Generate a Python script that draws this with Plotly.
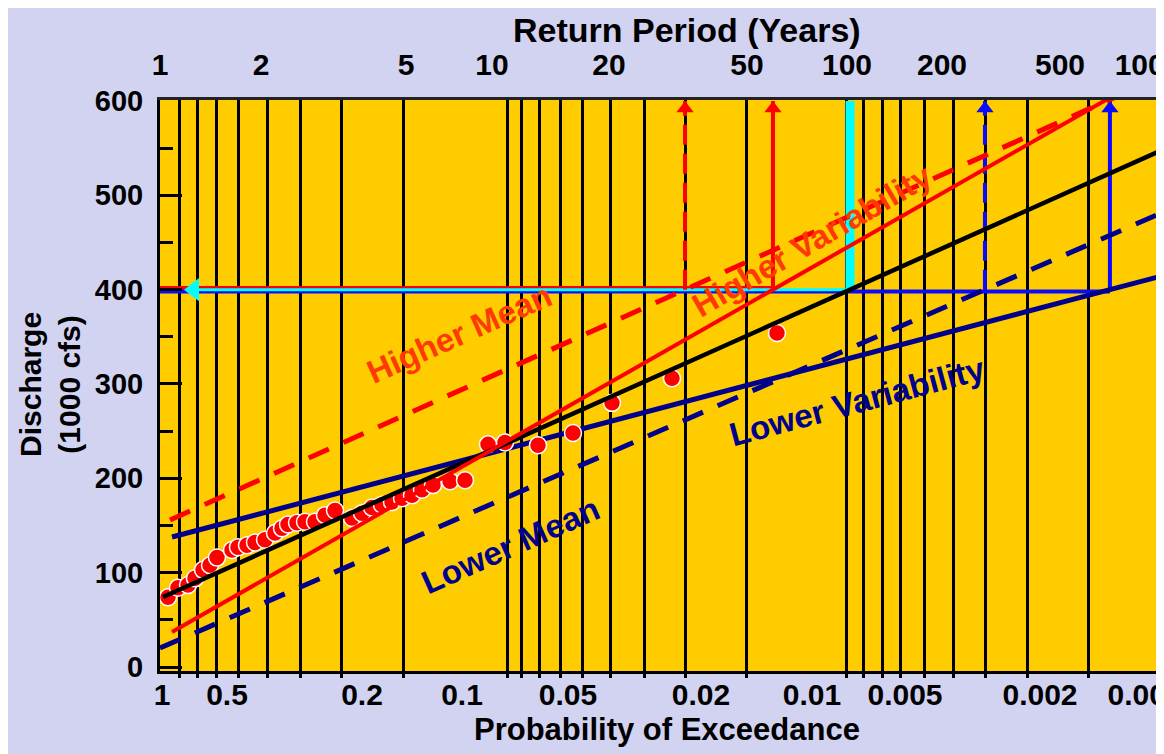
import numpy as np
import plotly.graph_objects as go

# ---------------- data ----------------
# x is the position on the probability paper (0 = P 1.0 / T 1 yr, 1000 = right edge)
OBS_POS = [8, 18, 28, 35, 43, 50, 57, 72, 78, 87, 95, 105, 115, 122, 128, 137, 145, 155,
           165, 175, 192, 202, 212, 222, 232, 242, 252, 262, 273, 290, 305,
           328, 345, 378, 413, 452, 512, 617]
OBS_Q = [74, 84, 87, 94, 103, 108, 116, 124, 127, 129, 132, 135, 142, 147, 151, 153, 154, 154,
         161, 166, 158, 163, 169, 172, 175, 179, 182, 188, 193, 197, 198,
         236, 238, 235, 248, 280, 306, 354]

FIT_POS, FIT_Q = [3, 1000], [74.2, 547.0]                      # fitted frequency curve
HIMEAN_POS, HIMEAN_Q = [10, 1000], [155.8, 625.2]              # higher mean
HIVAR_POS, HIVAR_Q = [12, 1000], [37.1, 633.7]                 # higher variability
LOVAR_POS, LOVAR_Q = [12, 1000], [137.8, 414.0]                # lower variability
LOMEAN_POS, LOMEAN_Q = [0, 1000], [20.1, 480.6]                # lower mean

DESIGN_Q = 400
TOP_Q = 600

PROB_LABELS = ["1", "0.5", "0.2", "0.1", "0.05", "0.02", "0.01", "0.005", "0.002", "0.001"]
PROB_POS = [2, 67, 202, 302, 408, 541, 652, 745, 880, 985]
RP_LABELS = ["1", "2", "5", "10", "20", "50", "100", "200", "500", "1000"]
RP_POS = [0, 101, 246, 332, 449, 587, 687, 782, 900, 988]
GRID_POS = [19, 37, 56, 78, 107, 140, 181, 243, 347, 361, 379, 400, 422, 450, 484, 525,
            586, 686, 703, 722, 740, 764, 793, 825, 867, 928]
Y_TICKS = [0, 100, 200, 300, 400, 500, 600]

# ---------------- style ----------------
ORANGE = "#FFCC00"
LAVENDER = "#D2D2F1"
RED = "#FF0000"
TXT_RED = "#FF3A00"
NAVY = "#00008C"
BLUE = "#0A0AFF"
CYAN = "#00FFFF"
FONT = "Liberation Sans"


def cross(pos, q, level):
    return float(np.interp(level, q, pos))


x_fit = cross(FIT_POS, FIT_Q, DESIGN_Q)
x_himean = cross(HIMEAN_POS, HIMEAN_Q, DESIGN_Q)
x_hivar = cross(HIVAR_POS, HIVAR_Q, DESIGN_Q)
x_lovar = cross(LOVAR_POS, LOVAR_Q, DESIGN_Q)
x_lomean = cross(LOMEAN_POS, LOMEAN_Q, DESIGN_Q)

fig = go.Figure()


def line(x, y, color, width, dash=None):
    fig.add_trace(go.Scatter(x=x, y=y, mode="lines", hoverinfo="skip", showlegend=False,
                             line=dict(color=color, width=width, dash=dash)))


# horizontal design-flood lines
line([0, x_hivar], [DESIGN_Q + 1.8, DESIGN_Q + 1.8], RED, 4)
line([0, x_lovar], [DESIGN_Q - 2.0, DESIGN_Q - 2.0], BLUE, 4)
line([30, x_fit], [DESIGN_Q, DESIGN_Q], CYAN, 3)

# vertical arrows up to the top
line([x_himean, x_himean], [DESIGN_Q, TOP_Q], RED, 4, "20px,9px")
line([x_hivar, x_hivar], [DESIGN_Q, TOP_Q], RED, 4)
line([x_fit, x_fit], [DESIGN_Q, TOP_Q], CYAN, 9)
line([x_lomean, x_lomean], [DESIGN_Q, TOP_Q], BLUE, 4, "20px,9px")
line([x_lovar, x_lovar], [DESIGN_Q, TOP_Q], BLUE, 4)
fig.add_trace(go.Scatter(x=[x_himean, x_hivar], y=[TOP_Q - 8, TOP_Q - 8], mode="markers",
                         hoverinfo="skip", showlegend=False,
                         marker=dict(symbol="triangle-up", size=15, color=RED)))
fig.add_trace(go.Scatter(x=[x_lomean, x_lovar], y=[TOP_Q - 8, TOP_Q - 8], mode="markers",
                         hoverinfo="skip", showlegend=False,
                         marker=dict(symbol="triangle-up", size=15, color=BLUE)))
fig.add_trace(go.Scatter(x=[34], y=[DESIGN_Q], mode="markers", hoverinfo="skip", showlegend=False,
                         marker=dict(symbol="triangle-left", size=20, color=CYAN)))

# frequency curves
line(HIMEAN_POS, HIMEAN_Q, RED, 5, "22px,16px")
line(LOMEAN_POS, LOMEAN_Q, NAVY, 5, "22px,16px")
line(LOVAR_POS, LOVAR_Q, NAVY, 5)

# observations
fig.add_trace(go.Scatter(x=OBS_POS, y=OBS_Q, mode="markers", hoverinfo="skip", showlegend=False,
                         marker=dict(size=17, color=RED, line=dict(color="white", width=1.5))))

line(FIT_POS, FIT_Q, "black", 4.5)
line(HIVAR_POS, HIVAR_Q, RED, 4)

# empty traces so the label axes are drawn
fig.add_trace(go.Scatter(x=[], y=[], xaxis="x2", showlegend=False))
fig.add_trace(go.Scatter(x=[], y=[], xaxis="x3", showlegend=False))

# curve labels
labels = [
    ("Higher Mean", 299, 354, -24, TXT_RED),
    ("Higher Variability", 652, 452, -30, TXT_RED),
    ("Lower Variability", 697, 281, -15, NAVY),
    ("Lower Mean", 350, 129, -24, NAVY),
]
for txt, x, y, ang, col in labels:
    fig.add_annotation(x=x, y=y, xref="x", yref="y", text=txt, showarrow=False, textangle=ang,
                       font=dict(family=FONT, size=33, color=col, weight="bold"))

# axis titles
fig.add_annotation(x=0.525, y=1.1226, xref="paper", yref="paper", text="Return Period (Years)",
                   showarrow=False, xanchor="center", yanchor="middle",
                   font=dict(family=FONT, size=34, color="black", weight="bold"))
fig.add_annotation(x=0.505, y=-0.1033, xref="paper", yref="paper", text="Probability of Exceedance",
                   showarrow=False, xanchor="center", yanchor="middle",
                   font=dict(family=FONT, size=31, color="black", weight="bold"))
fig.add_annotation(x=-0.1096, y=0.5026, xref="paper", yref="paper", text="Discharge<br>(1000 cfs)",
                   showarrow=False, xanchor="center", yanchor="middle", textangle=-90,
                   font=dict(family=FONT, size=30, color="black", weight="bold"))

XR = [0, 1004]
tick_font = dict(family=FONT, size=30, color="black", weight="bold")
ytick_font = dict(family=FONT, size=29, color="black", weight="bold")
fig.update_layout(
    width=1156, height=746,
    margin=dict(l=152, r=0, t=92, b=83, autoexpand=False),
    paper_bgcolor=LAVENDER, plot_bgcolor=ORANGE,
    showlegend=False,
    xaxis=dict(range=XR, tickmode="array", tickvals=GRID_POS, ticktext=[""] * len(GRID_POS),
               showgrid=True, gridcolor="black", gridwidth=3, zeroline=False,
               ticks="outside", ticklen=4, tickwidth=3, tickcolor="black", automargin=False,
               showline=True, linecolor="black", linewidth=3, showticklabels=False),
    xaxis2=dict(range=XR, overlaying="x", side="top", anchor="y", tickmode="array",
                tickvals=RP_POS, ticktext=RP_LABELS, showgrid=False, zeroline=False,
                ticks="", showline=True, linecolor="#222", linewidth=3, automargin=False,
                tickfont=tick_font, ticklabeloverflow="allow", ticklabelstandoff=10),
    xaxis3=dict(range=XR, overlaying="x", side="bottom", anchor="y", tickmode="array",
                tickvals=PROB_POS, ticktext=PROB_LABELS, showgrid=False, zeroline=False,
                ticks="", showline=False, tickfont=tick_font, ticklabeloverflow="allow",
                ticklabelstandoff=3, automargin=False),
    yaxis=dict(range=[-4.2, 601], tickmode="array", tickvals=Y_TICKS, showgrid=False,
               zeroline=False, ticks="inside", ticklen=22, tickwidth=3, tickcolor="black",
               minor=dict(dtick=50, ticks="inside", ticklen=13, tickwidth=3, tickcolor="black"),
               showline=True, linecolor="black", linewidth=3, tickfont=ytick_font,
               ticklabelstandoff=8, automargin=False),
)

fig.write_html("out.html")
